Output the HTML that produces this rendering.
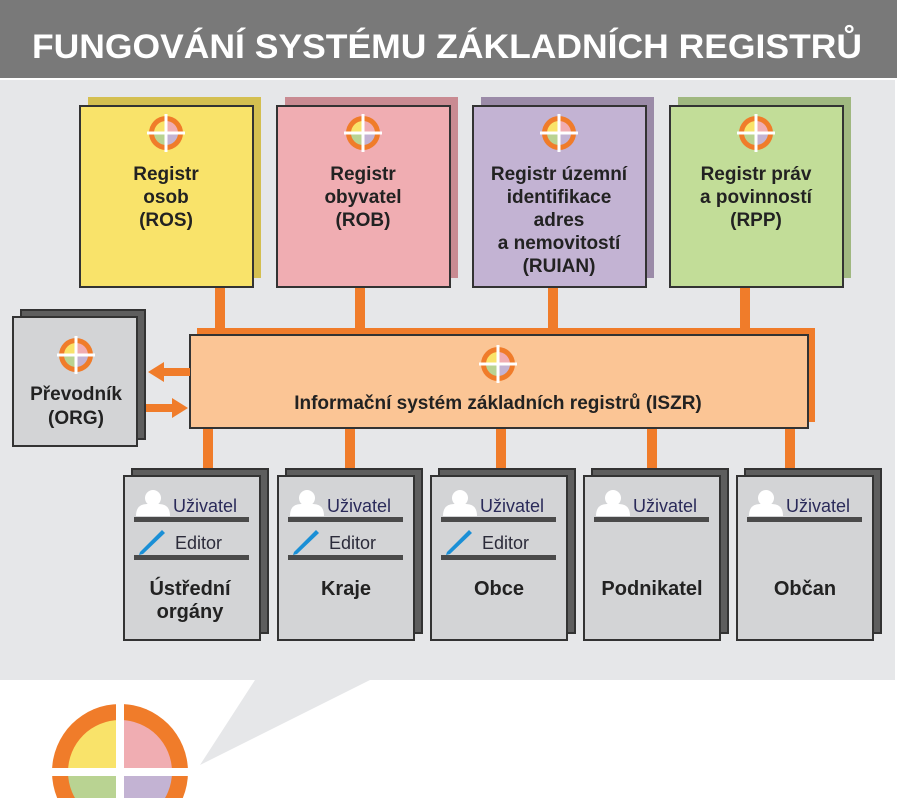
<!DOCTYPE html>
<html><head><meta charset="utf-8"><style>
html,body{margin:0;padding:0;background:#fff;width:900px;height:798px;overflow:hidden;}
svg{display:block;font-family:"Liberation Sans",sans-serif;}
</style></head><body>
<svg width="900" height="798" viewBox="0 0 900 798" xmlns="http://www.w3.org/2000/svg">
<defs>
<g id="logo">
  <circle r="17" fill="#f07c2a"/>
  <path d="M0,0 L-12,0 A12,12 0 0 1 0,-12 Z" fill="#f9e36a"/>
  <path d="M0,0 L0,-12 A12,12 0 0 1 12,0 Z" fill="#f0adb2"/>
  <path d="M0,0 L12,0 A12,12 0 0 1 0,12 Z" fill="#c3b3d3"/>
  <path d="M0,0 L0,12 A12,12 0 0 1 -12,0 Z" fill="#b9d392"/>
  <rect x="-19" y="-1.5" width="38" height="3" fill="#fff"/>
  <rect x="-1.5" y="-19" width="3" height="38" fill="#fff"/>
</g>
<g id="person"><circle cx="0" cy="-8" r="8" fill="#fff"/><path d="M-17,10 Q-17,-2 -6,-2 L6,-2 Q17,-2 17,10 Z" fill="#fff"/></g>
<g id="pen"><path d="M-12,12 L10,-10 L13,-7 L-9,14 L-13,15 Z" fill="#1a8fd6"/></g>
</defs>
<rect x="0" y="0" width="897" height="78" fill="#797979"/>
<text x="447" y="58" text-anchor="middle" font-size="34" font-weight="bold" fill="#fff" textLength="830" lengthAdjust="spacingAndGlyphs">FUNGOVÁNÍ SYSTÉMU ZÁKLADNÍCH REGISTRŮ</text>
<rect x="0" y="80" width="895" height="600" fill="#e6e7e9"/>
<polygon points="255,680 370,680 200,765" fill="#e6e7e9"/>

<g fill="#f07c2a">
<rect x="215" y="287" width="10" height="45"/>
<rect x="355" y="287" width="10" height="45"/>
<rect x="548" y="287" width="10" height="45"/>
<rect x="740" y="287" width="10" height="45"/>
<rect x="203" y="426" width="10" height="46"/>
<rect x="345" y="426" width="10" height="46"/>
<rect x="496" y="426" width="10" height="46"/>
<rect x="647" y="426" width="10" height="46"/>
<rect x="785" y="426" width="10" height="46"/>
</g>

<g stroke="#333" stroke-width="2">
<rect x="88" y="97" width="173" height="181" fill="#d4bf50" stroke="none"/>
<rect x="80" y="106" width="173" height="181" fill="#f9e36a"/>
<rect x="285" y="97" width="173" height="181" fill="#c98b92" stroke="none"/>
<rect x="277" y="106" width="173" height="181" fill="#f0adb2"/>
<rect x="481" y="97" width="173" height="181" fill="#9b8ba8" stroke="none"/>
<rect x="473" y="106" width="173" height="181" fill="#c3b3d3"/>
<rect x="678" y="97" width="173" height="181" fill="#a0b880" stroke="none"/>
<rect x="670" y="106" width="173" height="181" fill="#c2dd98"/>
</g>
<use href="#logo" x="166" y="133"/>
<use href="#logo" x="363" y="133"/>
<use href="#logo" x="559" y="133"/>
<use href="#logo" x="756" y="133"/>
<g font-size="19" font-weight="bold" fill="#222" text-anchor="middle">
<text x="166" y="180">Registr</text><text x="166" y="203">osob</text><text x="166" y="226">(ROS)</text>
<text x="363" y="180">Registr</text><text x="363" y="203">obyvatel</text><text x="363" y="226">(ROB)</text>
<text x="559" y="180">Registr územní</text><text x="559" y="203">identifikace</text><text x="559" y="226">adres</text><text x="559" y="249">a nemovitostí</text><text x="559" y="272">(RUIAN)</text>
<text x="756" y="180">Registr práv</text><text x="756" y="203">a povinností</text><text x="756" y="226">(RPP)</text>
</g>

<rect x="197" y="328" width="618" height="94" fill="#f07c2a"/>
<rect x="190" y="335" width="618" height="93" fill="#fbc595" stroke="#333" stroke-width="2"/>
<use href="#logo" x="498" y="364"/>
<text x="498" y="409" text-anchor="middle" font-size="19" font-weight="bold" fill="#222">Informační systém základních registrů (ISZR)</text>

<rect x="21" y="310" width="124" height="129" fill="#5e5e5e" stroke="#333" stroke-width="2"/>
<rect x="13" y="317" width="124" height="129" fill="#d3d4d6" stroke="#333" stroke-width="2"/>
<use href="#logo" x="76" y="355"/>
<text x="76" y="400" text-anchor="middle" font-size="19" font-weight="bold" fill="#222">Převodník</text>
<text x="76" y="424" text-anchor="middle" font-size="19" font-weight="bold" fill="#222">(ORG)</text>
<g fill="#f07c2a">
<rect x="162" y="368" width="28" height="8"/><polygon points="148,372 164,362 164,382"/>
<rect x="146" y="404" width="28" height="8"/><polygon points="188,408 172,398 172,418"/>
</g>

<g stroke="#333" stroke-width="2">
<rect x="132" y="469" width="136" height="164" fill="#5e5e5e"/><rect x="124" y="476" width="136" height="164" fill="#d3d4d6"/>
<rect x="286" y="469" width="136" height="164" fill="#5e5e5e"/><rect x="278" y="476" width="136" height="164" fill="#d3d4d6"/>
<rect x="439" y="469" width="136" height="164" fill="#5e5e5e"/><rect x="431" y="476" width="136" height="164" fill="#d3d4d6"/>
<rect x="592" y="469" width="136" height="164" fill="#5e5e5e"/><rect x="584" y="476" width="136" height="164" fill="#d3d4d6"/>
<rect x="745" y="469" width="136" height="164" fill="#5e5e5e"/><rect x="737" y="476" width="136" height="164" fill="#d3d4d6"/>
</g>
<g fill="#4a4a4a">
<rect x="134" y="517" width="115" height="5"/><rect x="134" y="555" width="115" height="5"/>
<rect x="288" y="517" width="115" height="5"/><rect x="288" y="555" width="115" height="5"/>
<rect x="441" y="517" width="115" height="5"/><rect x="441" y="555" width="115" height="5"/>
<rect x="594" y="517" width="115" height="5"/>
<rect x="747" y="517" width="115" height="5"/>
</g>
<use href="#person" x="153" y="506"/><use href="#person" x="307" y="506"/><use href="#person" x="460" y="506"/><use href="#person" x="613" y="506"/><use href="#person" x="766" y="506"/>
<use href="#pen" x="152" y="540"/><use href="#pen" x="306" y="540"/><use href="#pen" x="459" y="540"/>
<g font-size="18" fill="#2b2b5a">
<text x="173" y="512">Uživatel</text><text x="327" y="512">Uživatel</text><text x="480" y="512">Uživatel</text><text x="633" y="512">Uživatel</text><text x="786" y="512">Uživatel</text>
</g>
<g font-size="18" fill="#2b2b3a">
<text x="175" y="549">Editor</text><text x="329" y="549">Editor</text><text x="482" y="549">Editor</text>
</g>
<g font-size="20" font-weight="bold" fill="#222" text-anchor="middle">
<text x="190" y="595">Ústřední</text><text x="190" y="618">orgány</text>
<text x="346" y="595">Kraje</text>
<text x="499" y="595">Obce</text>
<text x="652" y="595">Podnikatel</text>
<text x="805" y="595">Občan</text>
</g>

<g transform="translate(120,772)">
  <circle r="68" fill="#f07c2a"/>
  <path d="M0,0 L-52,0 A52,52 0 0 1 0,-52 Z" fill="#f9e36a"/>
  <path d="M0,0 L0,-52 A52,52 0 0 1 52,0 Z" fill="#f0adb2"/>
  <path d="M0,0 L52,0 A52,52 0 0 1 0,52 Z" fill="#c3b3d3"/>
  <path d="M0,0 L0,52 A52,52 0 0 1 -52,0 Z" fill="#b9d392"/>
  <rect x="-72" y="-4" width="144" height="8" fill="#fff"/>
  <rect x="-4" y="-72" width="8" height="144" fill="#fff"/>
</g>
</svg>
</body></html>
